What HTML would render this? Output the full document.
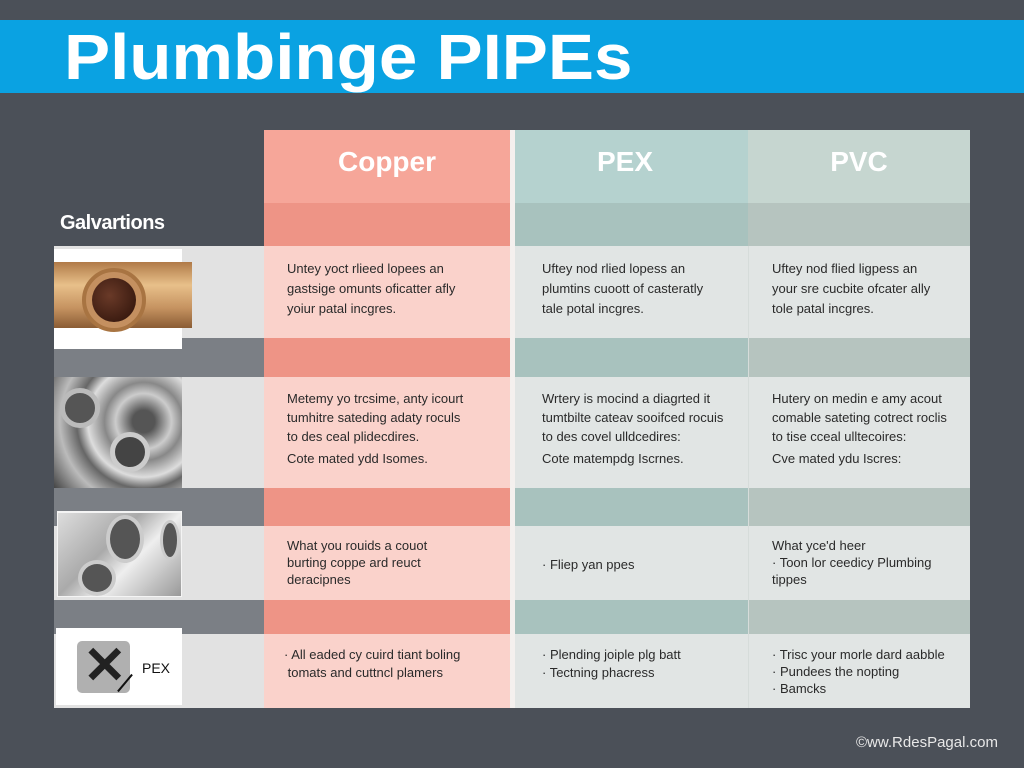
<!DOCTYPE html>
<html><head><meta charset="utf-8"><style>
body{margin:0;width:1024px;height:768px;background:#4b5058;position:relative;overflow:hidden;font-family:"Liberation Sans",sans-serif}
div{position:absolute;box-sizing:border-box}
.t{font-size:13px;line-height:20px;color:#2a2a2a;white-space:nowrap}
.h{font-size:28px;font-weight:bold;color:#fff;text-align:center;top:146px}
</style></head><body>
<div style="left:0;top:20px;width:1024px;height:73px;background:#0aa2e2"></div>
<div style="left:64px;top:21px;font-size:64px;font-weight:bold;color:#fff;line-height:72px;transform:scaleX(1.08);transform-origin:0 0;white-space:nowrap">Plumbinge PIPEs</div>

<div style="left:264px;top:130px;width:246px;height:73px;background:#f6a699"></div>
<div style="left:510px;top:130px;width:5px;height:578px;background:#f4f0ee"></div>
<div style="left:515px;top:130px;width:233px;height:73px;background:#b5d2cf"></div>
<div style="left:748px;top:130px;width:222px;height:73px;background:#c6d6d0"></div>
<div class="h" style="left:264px;width:246px">Copper</div>
<div class="h" style="left:515px;width:220px">PEX</div>
<div class="h" style="left:748px;width:222px">PVC</div>
<div style="left:60px;top:212px;font-size:20px;font-weight:bold;color:#fff;letter-spacing:-0.5px">Galvartions</div>

<div style="left:264px;top:203px;width:246px;height:43px;background:#ee9486"></div>
<div style="left:515px;top:203px;width:233px;height:43px;background:#a8c2be"></div>
<div style="left:748px;top:203px;width:222px;height:43px;background:#b6c4bf"></div>

<div style="left:54px;top:246px;width:210px;height:92px;background:#e2e2e2"></div>
<div style="left:264px;top:246px;width:246px;height:92px;background:#fad2cb"></div>
<div style="left:515px;top:246px;width:455px;height:92px;background:#e1e5e4"></div>

<div style="left:54px;top:338px;width:210px;height:39px;background:#7b7f85"></div>
<div style="left:264px;top:338px;width:246px;height:39px;background:#ee9486"></div>
<div style="left:515px;top:338px;width:233px;height:39px;background:#a8c2be"></div>
<div style="left:748px;top:338px;width:222px;height:39px;background:#b6c4bf"></div>

<div style="left:54px;top:377px;width:210px;height:111px;background:#e2e2e2"></div>
<div style="left:264px;top:377px;width:246px;height:111px;background:#fad2cb"></div>
<div style="left:515px;top:377px;width:455px;height:111px;background:#e1e5e4"></div>

<div style="left:54px;top:488px;width:210px;height:38px;background:#7b7f85"></div>
<div style="left:264px;top:488px;width:246px;height:38px;background:#ee9486"></div>
<div style="left:515px;top:488px;width:233px;height:38px;background:#a8c2be"></div>
<div style="left:748px;top:488px;width:222px;height:38px;background:#b6c4bf"></div>

<div style="left:54px;top:526px;width:210px;height:74px;background:#e2e2e2"></div>
<div style="left:264px;top:526px;width:246px;height:74px;background:#fad2cb"></div>
<div style="left:515px;top:526px;width:455px;height:74px;background:#e1e5e4"></div>

<div style="left:54px;top:600px;width:210px;height:34px;background:#7b7f85"></div>
<div style="left:264px;top:600px;width:246px;height:34px;background:#ee9486"></div>
<div style="left:515px;top:600px;width:233px;height:34px;background:#a8c2be"></div>
<div style="left:748px;top:600px;width:222px;height:34px;background:#b6c4bf"></div>

<div style="left:54px;top:634px;width:210px;height:74px;background:#e2e2e2"></div>
<div style="left:264px;top:634px;width:246px;height:74px;background:#fad2cb"></div>
<div style="left:515px;top:634px;width:455px;height:74px;background:#e1e5e4"></div>
<div style="left:748px;top:246px;width:1px;height:462px;background:#d6dcda"></div>

<div style="left:54px;top:249px;width:128px;height:100px;background:#fff"></div>
<div style="left:54px;top:262px;width:138px;height:66px;background:linear-gradient(#b07a48,#e8c08a 35%,#c59260 70%,#8a5c34)"></div>
<div style="left:82px;top:268px;width:64px;height:64px;border-radius:50%;background:#c49060;border:4px solid #a87442"></div>
<div style="left:92px;top:278px;width:44px;height:44px;border-radius:50%;background:radial-gradient(circle at 40% 40%,#6a3a28,#2a1008)"></div>

<div style="left:54px;top:377px;width:128px;height:111px;background:radial-gradient(circle at 70% 40%,#555 10%,#ccc 25%,#888 35%,#ddd 50%,#666 60%,#bbb 75%,#444)"></div>
<div style="left:60px;top:388px;width:40px;height:40px;border-radius:50%;background:#555;border:5px solid #bbb"></div>
<div style="left:110px;top:432px;width:40px;height:40px;border-radius:50%;background:#444;border:5px solid #ccc"></div>

<div style="left:57px;top:511px;width:125px;height:86px;background:#f4f4f4"></div>
<div style="left:58px;top:513px;width:123px;height:83px;background:linear-gradient(135deg,#ddd,#aaa 40%,#eee 60%,#999)"></div>
<div style="left:106px;top:515px;width:38px;height:48px;border-radius:50%;background:#555;border:4px solid #ccc"></div>
<div style="left:78px;top:560px;width:38px;height:36px;border-radius:50%;background:#555;border:4px solid #ccc"></div>
<div style="left:160px;top:520px;width:20px;height:40px;border-radius:50%;background:#555;border:3px solid #ccc"></div>

<div style="left:56px;top:628px;width:126px;height:77px;background:#fff"></div>
<div style="left:77px;top:641px;width:53px;height:52px;border-radius:5px;background:#b0b0b0"></div>
<div style="left:83px;top:636px;width:44px;height:60px;font-size:52px;font-weight:bold;color:#222;line-height:60px">✕</div>
<div style="left:142px;top:660px;font-size:14px;color:#111">PEX</div>
<div style="left:124px;top:672px;width:2px;height:22px;background:#111;transform:rotate(40deg)"></div>

<div class="t" style="left:287px;top:259px">Untey yoct rlieed lopees an<br>gastsige omunts oficatter afly<br>yoiur patal incgres.</div>
<div class="t" style="left:542px;top:259px">Uftey nod rlied lopess an<br>plumtins cuoott of casteratly<br>tale potal incgres.</div>
<div class="t" style="left:772px;top:259px">Uftey nod flied ligpess an<br>your sre cucbite ofcater ally<br>tole patal incgres.</div>

<div class="t" style="left:287px;top:389px;line-height:19px">Metemy yo trcsime, anty icourt<br>tumhitre sateding adaty roculs<br>to des ceal plidecdires.<br><span style="line-height:25px">Cote mated ydd Isomes.</span></div>
<div class="t" style="left:542px;top:389px;line-height:19px">Wrtery is mocind a diagrted it<br>tumtbilte cateav sooifced rocuis<br>to des covel ulldcedires:<br><span style="line-height:25px">Cote matempdg Iscrnes.</span></div>
<div class="t" style="left:772px;top:389px;line-height:19px">Hutery on medin e amy acout<br>comable sateting cotrect roclis<br>to tise cceal ulltecoires:<br><span style="line-height:25px">Cve mated ydu Iscres:</span></div>

<div class="t" style="left:287px;top:537px;line-height:17px">What you rouids a couot<br>burting coppe ard reuct<br>deracipnes</div>
<div class="t" style="left:542px;top:555px">· Fliep yan ppes</div>
<div class="t" style="left:772px;top:537px;line-height:17px">What yce'd heer<br>· Toon lor ceedicy Plumbing<br>tippes</div>

<div class="t" style="left:284px;top:646px;line-height:18px">· All eaded cy cuird tiant boling<br>&nbsp;tomats and cuttncl plamers</div>
<div class="t" style="left:542px;top:646px;line-height:18px">· Plending joiple plg batt<br>· Tectning phacress</div>
<div class="t" style="left:772px;top:646px;line-height:17px">· Trisc your morle dard aabble<br>· Pundees the nopting<br>· Bamcks</div>

<div style="left:856px;top:734px;font-size:15px;color:#e8e8e8">©ww.RdesPagal.com</div>
</body></html>
